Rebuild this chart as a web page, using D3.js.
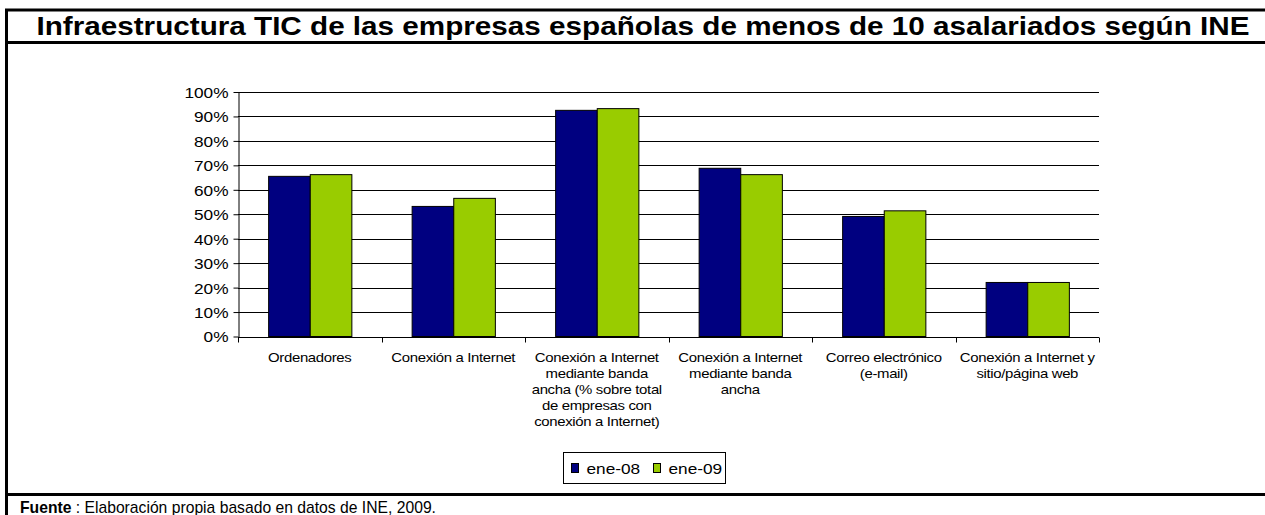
<!DOCTYPE html>
<html>
<head>
<meta charset="utf-8">
<style>
  body { margin: 0; background: #fff; }
  svg text { font-family: Arial, "Liberation Sans", sans-serif; }
</style>
</head>
<body>
<div id="chart"></div>
<script src="https://d3js.org/d3.v7.min.js"></script>
<script>
// data
var categories = [
  ["Ordenadores"],
  ["Conexión a Internet"],
  ["Conexión a Internet", "mediante banda", "ancha (% sobre total", "de empresas con", "conexión a Internet)"],
  ["Conexión a Internet", "mediante banda", "ancha"],
  ["Correo electrónico", "(e-mail)"],
  ["Conexión a Internet y", "sitio/página web"]
];
var seriesNames = ["ene-08", "ene-09"];
var ene08 = [65.5, 53.2, 92.5, 68.8, 49.1, 22.1];
var ene09 = [66.2, 56.5, 93.2, 66.2, 51.4, 22.1];
var yTicks = [0, 10, 20, 30, 40, 50, 60, 70, 80, 90, 100];
var colors = ["#000080", "#99cc00"];

var W = 1265, H = 515;
var stretch = 1.15; // the original picture is widened a little
var svg = d3.select("#chart").append("svg")
    .attr("width", W).attr("height", H);

// frame
svg.append("line").attr("x1", 6.5).attr("x2", 6.5).attr("y1", 9).attr("y2", H)
    .attr("stroke", "#000").attr("stroke-width", 3);
svg.append("line").attr("x1", 5).attr("x2", W).attr("y1", 10).attr("y2", 10)
    .attr("stroke", "#000").attr("stroke-width", 3);
svg.append("line").attr("x1", 5).attr("x2", W).attr("y1", 42.5).attr("y2", 42.5)
    .attr("stroke", "#000").attr("stroke-width", 3);
svg.append("line").attr("x1", 5).attr("x2", W).attr("y1", 494.5).attr("y2", 494.5)
    .attr("stroke", "#000").attr("stroke-width", 3);

// title
svg.append("text")
    .attr("x", 643).attr("y", 35)
    .attr("text-anchor", "middle")
    .style("font-family", "'Liberation Sans Narrow', 'Arial Narrow', 'Liberation Sans', Arial, sans-serif")
    .style("font-weight", "bold")
    .style("font-size", "26px")
    .attr("textLength", 1213)
    .attr("lengthAdjust", "spacingAndGlyphs")
    .text("Infraestructura TIC de las empresas españolas de menos de 10 asalariados según INE");

// footer
var foot = svg.append("text").attr("x", 20).attr("y", 513).style("font-size", "15.7px");
foot.append("tspan").style("font-weight", "bold").text("Fuente");
foot.append("tspan").text(" : Elaboración propia basado en datos de INE, 2009.");

var margin = {top: 92, left: 238, right: 1099, bottom: 336.5};
var plotW = margin.right - margin.left, plotH = margin.bottom - margin.top;

var g = svg.append("g").attr("transform", "translate(" + margin.left + "," + margin.top + ")");

var x = d3.scaleBand().domain(d3.range(categories.length)).range([0, plotW])
    .paddingInner(0.42).paddingOuter(0.21);
var xs = d3.scaleBand().domain(seriesNames).range([0, x.bandwidth()]);
var y = d3.scaleLinear().domain([0, 100]).range([plotH, 0]);

// gridlines
g.selectAll(".grid").data(yTicks.slice(1)).enter().append("line")
    .attr("x1", 0).attr("x2", plotW)
    .attr("y1", function(d) { return Math.round(y(d)) + 0.5; })
    .attr("y2", function(d) { return Math.round(y(d)) + 0.5; })
    .attr("stroke", "#000").attr("stroke-width", 1);

// bars
var data = categories.map(function(c, i) { return [ene08[i], ene09[i]]; });
var groups = g.selectAll(".grp").data(data).enter().append("g")
    .attr("transform", function(d, i) { return "translate(" + x(i) + ",0)"; });
groups.selectAll("rect").data(function(d) { return d; }).enter().append("rect")
    .attr("x", function(d, j) { return xs(seriesNames[j]) + 0.5; })
    .attr("width", xs.bandwidth())
    .attr("y", function(d) { return y(d); })
    .attr("height", function(d) { return plotH - y(d); })
    .attr("fill", function(d, j) { return colors[j]; })
    .attr("stroke", "#000").attr("stroke-width", 1);

// y axis
var yAxis = g.append("g").attr("transform", "translate(0.5,0)")
    .call(d3.axisLeft(y).tickValues(yTicks).tickSize(5).tickSizeOuter(0)
      .tickFormat(function(d) { return d + "%"; }));
yAxis.select(".domain").attr("stroke", "#000");
yAxis.selectAll("text").style("font-size", "15px").attr("x", -10 / stretch).attr("dy", "0.36em")
    .attr("transform", "scale(" + stretch + ",1)")
    .style("font-family", "Arial, 'Liberation Sans', sans-serif").attr("fill", "#000");

// x axis
var xAxisG = g.append("g").attr("transform", "translate(0," + (Math.round(plotH) + 0.5) + ")");
xAxisG.append("line").attr("x1", 0).attr("x2", plotW).attr("stroke", "#000");
xAxisG.selectAll(".tk").data(d3.range(categories.length + 1)).enter().append("line")
    .attr("x1", function(d) { return Math.round(d * plotW / categories.length) + 0.5; })
    .attr("x2", function(d) { return Math.round(d * plotW / categories.length) + 0.5; })
    .attr("y1", 0).attr("y2", 5).attr("stroke", "#000");
var lbl = xAxisG.selectAll(".lbl").data(categories).enter().append("text")
    .attr("text-anchor", "middle")
    .attr("transform", function(d, i) {
      return "translate(" + (x(i) + x.bandwidth() / 2) + ",0) scale(" + stretch + ",1)";
    })
    .style("font-size", "13px").style("letter-spacing", "-0.3px");
lbl.selectAll("tspan").data(function(d) { return d; })
    .enter().append("tspan")
    .attr("x", 0)
    .attr("y", function(d, k) { return 25 + k * 16; })
    .text(function(d) { return d; });

// legend
var leg = svg.append("g").attr("transform", "translate(563.5,452.5)");
leg.append("rect").attr("width", 162).attr("height", 31).attr("fill", "#fff").attr("stroke", "#000");
var items = leg.selectAll(".it").data(seriesNames).enter().append("g")
    .attr("transform", function(d, i) { return "translate(" + (8 + i * 82) + ",0)"; });
items.append("rect").attr("x", 0).attr("y", 11).attr("width", 7).attr("height", 9)
    .attr("fill", function(d, i) { return colors[i]; }).attr("stroke", "#000");
items.append("text").attr("transform", "translate(15,21) scale(" + stretch + ",1)")
    .style("font-size", "15px").text(function(d) { return d; });
</script>
</body>
</html>
